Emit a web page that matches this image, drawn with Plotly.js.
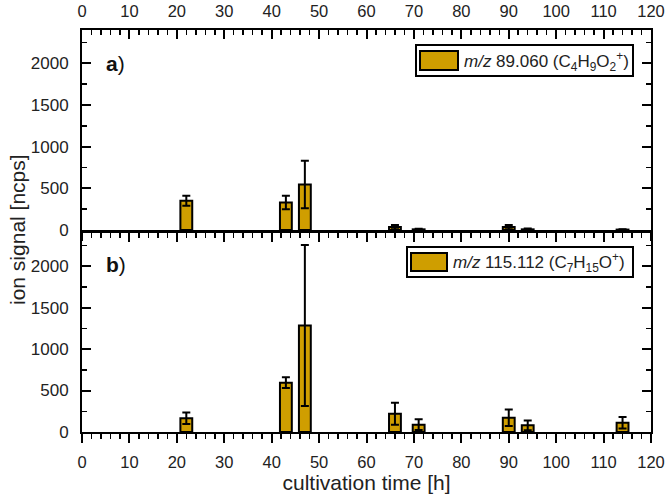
<!DOCTYPE html>
<html>
<head>
<meta charset="utf-8">
<script src="https://cdn.plot.ly/plotly-3.0.1.min.js"></script>
<style>html,body{margin:0;padding:0;background:#fff;}#chart{width:666px;height:500px;}</style>
</head>
<body>
<div id="chart"></div>
<script>
// ---- data ----
var times = [22, 43, 47, 66, 71, 90, 94, 114];
var signalA = [350, 330, 545, 35, 8, 35, 8, 5];
var errorA = [60, 80, 285, 25, 8, 25, 10, 5];
var signalB = [165, 595, 1285, 220, 88, 172, 80, 112];
var errorB = [70, 65, 970, 132, 65, 100, 60, 70];
var xTicks = [0, 10, 20, 30, 40, 50, 60, 70, 80, 90, 100, 110, 120];
var yTicks = [0, 500, 1000, 1500, 2000];
var legendA = "<i>m/z</i> 89.060 (C<sub>4</sub>H<sub>9</sub>O<sub>2</sub><sup>+</sup>)";
var legendB = "<i>m/z</i> 115.112 (C<sub>7</sub>H<sub>15</sub>O<sup>+</sup>)";
var panelA = "<b>a</b>)";
var panelB = "<b>b</b>)";
var xTitle = "cultivation time [h]";
var yTitle = "ion signal [ncps]";

var barColor = "#CF9E00";
var FONT = "Liberation Sans, Arial, sans-serif";

function barTrace(vals, errs, xa, ya) {
  return {
    type: "bar", x: times, y: vals, xaxis: xa, yaxis: ya, width: 2.5,
    marker: {color: barColor, line: {color: "black", width: 2}},
    error_y: {type: "data", array: errs, visible: true, color: "black", thickness: 2, width: 4},
    showlegend: false, hoverinfo: "skip"
  };
}
function emptyTrace(xa, ya) {
  return {type: "scatter", mode: "markers", x: [], y: [], xaxis: xa, yaxis: ya, showlegend: false, hoverinfo: "skip"};
}

var traces = [
  barTrace(signalA, errorA, "x", "y"),
  barTrace(signalB, errorB, "x2", "y2"),
  emptyTrace("x3", "y"), emptyTrace("x", "y3"),
  emptyTrace("x4", "y2"), emptyTrace("x2", "y4")
];

// pixel -> paper helpers (plot area 82..651 x, 30..432 y)
var L = 82, R = 651, T = 30, B = 432;
function px(v) { return (v - L) / (R - L); }
function py(v) { return (B - v) / (B - T); }

var baseX = {
  range: [0, 120], tickvals: xTicks, ticktext: xTicks.map(String),
  showline: true, linecolor: "black", linewidth: 2,
  tickwidth: 2, ticklen: 9, tickcolor: "black",
  showgrid: false, zeroline: false, fixedrange: true,
  tickfont: {family: FONT, size: 16.5, color: "#222"},
  minor: {dtick: 2, tick0: 0, ticklen: 5, tickwidth: 1.5, tickcolor: "black", showgrid: false}
};
var baseY = {
  range: [0, 2400], tickvals: yTicks, ticktext: yTicks.map(String),
  showline: true, linecolor: "black", linewidth: 2,
  tickwidth: 2, ticklen: 9, tickcolor: "black",
  showgrid: false, zeroline: false, fixedrange: true,
  tickfont: {family: FONT, size: 17, color: "#222"},
  minor: {dtick: 250, tick0: 0, ticklen: 5, tickwidth: 1.5, tickcolor: "black", showgrid: false, ticks: "inside"}
};
function ext(base, extra) {
  var o = JSON.parse(JSON.stringify(base));
  for (var k in extra) o[k] = extra[k];
  if (extra.ticks) o.minor.ticks = extra.ticks;
  return o;
}

var dA = [0.5025, 1], dB = [0, 0.495];

var layout = {
  width: 666, height: 500,
  margin: {l: L, r: 666 - R, t: T, b: 500 - B},
  paper_bgcolor: "white", plot_bgcolor: "white",
  showlegend: false, bargap: 0,
  font: {family: FONT, color: "#222"},
  xaxis: ext(baseX, {anchor: "y", domain: [0, 1], ticks: "outside", showticklabels: false}),
  xaxis3: ext(baseX, {anchor: "y", overlaying: "x", side: "top", ticks: "inside", showticklabels: true, ticklabelstandoff: 4}),
  yaxis: ext(baseY, {anchor: "x", domain: dA, ticks: "inside", showticklabels: true, ticklabelstandoff: 8}),
  yaxis3: ext(baseY, {anchor: "x", overlaying: "y", side: "right", ticks: "inside", showticklabels: false}),
  xaxis2: ext(baseX, {anchor: "y2", domain: [0, 1], ticks: "outside", showticklabels: true, ticklabelstandoff: 5,
    title: {text: xTitle, font: {family: FONT, size: 21, color: "#222"}, standoff: 6}}),
  xaxis4: ext(baseX, {anchor: "y2", overlaying: "x2", side: "top", ticks: "inside", showticklabels: false}),
  yaxis2: ext(baseY, {anchor: "x2", domain: dB, ticks: "inside", showticklabels: true, ticklabelstandoff: 8}),
  yaxis4: ext(baseY, {anchor: "x2", overlaying: "y2", side: "right", ticks: "inside", showticklabels: false}),
  shapes: [
    {type: "rect", xref: "paper", yref: "paper", x0: px(416), x1: px(633), y0: py(76), y1: py(45),
     line: {color: "black", width: 2}, fillcolor: "white", layer: "above"},
    {type: "rect", xref: "paper", yref: "paper", x0: px(420), x1: px(458), y0: py(70), y1: py(51),
     line: {color: "black", width: 2}, fillcolor: barColor, layer: "above"},
    {type: "rect", xref: "paper", yref: "paper", x0: px(407), x1: px(633), y0: py(277), y1: py(247),
     line: {color: "black", width: 2}, fillcolor: "white", layer: "above"},
    {type: "rect", xref: "paper", yref: "paper", x0: px(411), x1: px(447), y0: py(271), y1: py(253),
     line: {color: "black", width: 2}, fillcolor: barColor, layer: "above"}
  ],
  annotations: [
    {xref: "paper", yref: "paper", x: px(462), y: py(61), xanchor: "left", yanchor: "middle",
     text: legendA, showarrow: false, font: {family: FONT, size: 17, color: "#222"}},
    {xref: "paper", yref: "paper", x: px(451), y: py(262), xanchor: "left", yanchor: "middle",
     text: legendB, showarrow: false, font: {family: FONT, size: 17, color: "#222"}},
    {xref: "paper", yref: "paper", x: px(104), y: py(63), xanchor: "left", yanchor: "middle",
     text: panelA, showarrow: false, font: {family: FONT, size: 21, color: "#111"}},
    {xref: "paper", yref: "paper", x: px(104), y: py(264), xanchor: "left", yanchor: "middle",
     text: panelB, showarrow: false, font: {family: FONT, size: 21, color: "#111"}},
    {xref: "paper", yref: "paper", x: px(18), y: py(230), xanchor: "center", yanchor: "middle",
     text: yTitle, textangle: -90, showarrow: false, font: {family: FONT, size: 21, color: "#222"}}
  ]
};

Plotly.newPlot("chart", traces, layout, {displayModeBar: false, staticPlot: true});
</script>
</body>
</html>
